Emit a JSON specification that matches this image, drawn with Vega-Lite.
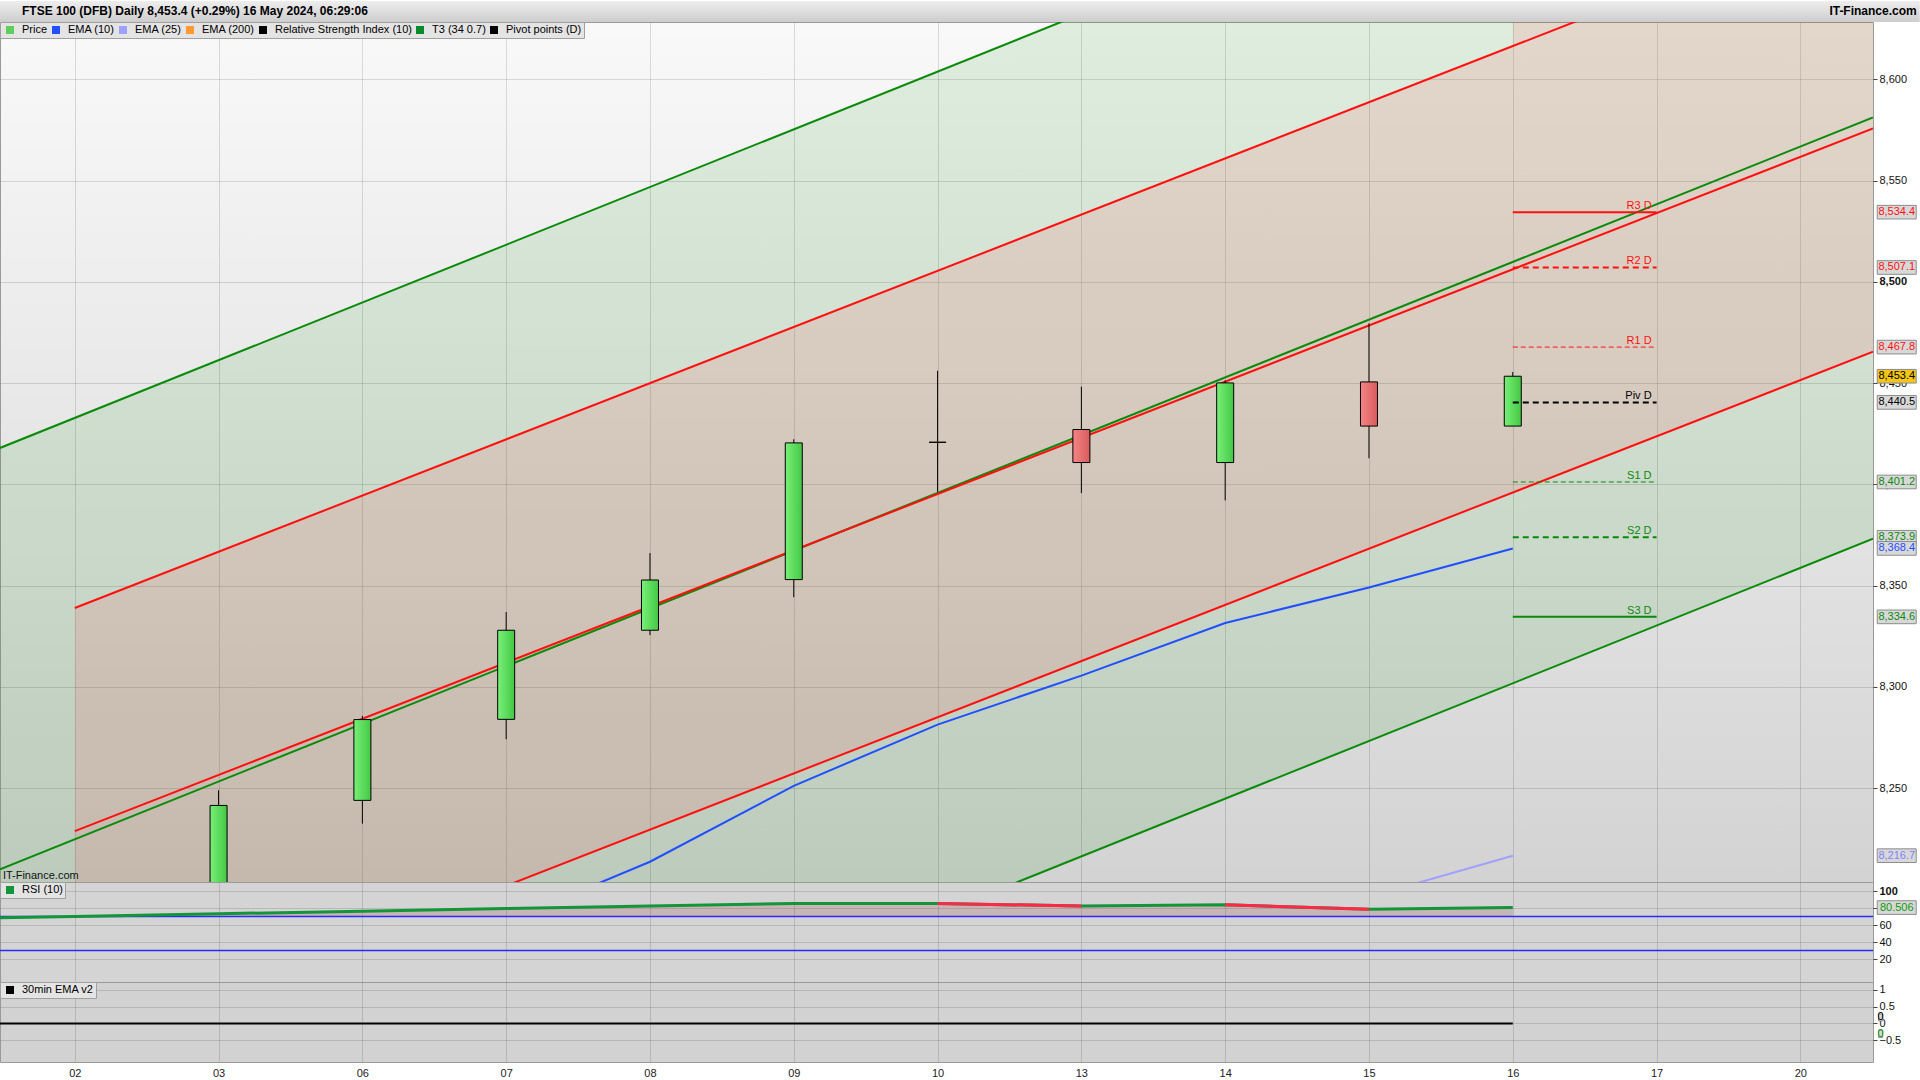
{
"$schema":"https://vega.github.io/schema/vega-lite/v6.json",
"background":"#ffffff",
"padding":{"left":-7,"top":0,"right":3,"bottom":0},
"spacing":0,
"bounds":"flush",
"config":{
 "font":"Liberation Sans",
 "view":{"stroke":"#9a9a9a","strokeWidth":1},
 "scale":{"continuousPadding":0},
 "axis":{"title":null,"labelFont":"Liberation Sans","labelFontSize":11,"labelColor":"#111111","domain":false,"tickColor":"#444444","tickSize":4,"gridColor":"#000000","gridOpacity":0.13,"gridWidth":1,"labelOverlap":false},
 "legend":{"orient":"none","legendX":0,"legendY":0,"direction":"horizontal","symbolType":"stroke","symbolStrokeWidth":8,"symbolSize":64,"labelFont":"Liberation Sans","labelFontSize":11,"labelColor":"#000000","fillColor":"#e4e4e4","strokeColor":"#a0a0a0","padding":2,"rowPadding":0,"columnPadding":-10,"labelOffset":4,"clipHeight":12}
},
"datasets":{
 "candles":[
  {"d":"03","i":1,"o":8190,"h":8249,"l":8180,"c":8241.5},
  {"d":"06","i":2,"o":8244,"h":8285.7,"l":8232.5,"c":8283.9},
  {"d":"07","i":3,"o":8284,"h":8337,"l":8274.2,"c":8328},
  {"d":"08","i":4,"o":8328,"h":8366.1,"l":8325.6,"c":8352.8},
  {"d":"09","i":5,"o":8353,"h":8422.3,"l":8344.3,"c":8420.5},
  {"d":"10","i":6,"o":8420.8,"h":8456.1,"l":8396.3,"c":8420.8},
  {"d":"13","i":7,"o":8427.1,"h":8448.3,"l":8395.7,"c":8410.8},
  {"d":"14","i":8,"o":8410.8,"h":8451.3,"l":8392.1,"c":8450.1},
  {"d":"15","i":9,"o":8450.6,"h":8479.5,"l":8412.9,"c":8428.8},
  {"d":"16","i":10,"o":8428.8,"h":8455.5,"l":8428.8,"c":8453.4}
 ],
 "green":[{"i":-0.52,"top":8418,"bot":8002},{"i":12.505,"top":8789.2,"bot":8373.2}],
 "brown":[
  {"seg":"a","i":0,"top":8339,"bot":8118.6},
  {"seg":"a","i":10,"top":8616.4,"bot":8396},
  {"seg":"b","i":10,"top":8640,"bot":8396},
  {"seg":"b","i":12.505,"top":8640,"bot":8465.5}
 ],
 "chan":[
  {"ln":"gt","c":"g","i":-0.52,"v":8418},{"ln":"gt","c":"g","i":12.505,"v":8789.2},
  {"ln":"gm","c":"g","i":-0.52,"v":8210},{"ln":"gm","c":"g","i":12.505,"v":8581.2},
  {"ln":"gb","c":"g","i":-0.52,"v":8002},{"ln":"gb","c":"g","i":12.505,"v":8373.2},
  {"ln":"rt","c":"r","i":0,"v":8339},{"ln":"rt","c":"r","i":12.505,"v":8685.9},
  {"ln":"rm","c":"r","i":0,"v":8228.8},{"ln":"rm","c":"r","i":12.505,"v":8575.7},
  {"ln":"rb","c":"r","i":0,"v":8118.6},{"ln":"rb","c":"r","i":12.505,"v":8465.5}
 ],
 "ema":[
  {"s":"EMA (10)","i":3,"v":8184},{"s":"EMA (10)","i":4,"v":8213.7},{"s":"EMA (10)","i":5,"v":8251.2},
  {"s":"EMA (10)","i":6,"v":8281.4},{"s":"EMA (10)","i":7,"v":8305.6},{"s":"EMA (10)","i":8,"v":8331.6},
  {"s":"EMA (10)","i":9,"v":8349.1},{"s":"EMA (10)","i":10,"v":8368.4},
  {"s":"EMA (25)","i":9,"v":8196.4},{"s":"EMA (25)","i":10,"v":8216.7}
 ],
 "pivots":[
  {"lvl":"R3 D","st":"solid","v":8534.4},{"lvl":"R2 D","st":"thick","v":8507.1},{"lvl":"R1 D","st":"thin","v":8467.8},
  {"lvl":"Piv D","st":"thick","v":8440.5},{"lvl":"S1 D","st":"thin","v":8401.2},{"lvl":"S2 D","st":"thick","v":8373.9},
  {"lvl":"S3 D","st":"solid","v":8334.6}
 ],
 "tags":[
  {"v":8534.4,"k":"r"},{"v":8507.1,"k":"r"},{"v":8467.8,"k":"r"},{"v":8453.4,"k":"p"},{"v":8440.5,"k":"b"},
  {"v":8401.2,"k":"g"},{"v":8373.9,"k":"g"},{"v":8368.4,"k":"e"},{"v":8334.6,"k":"g"},{"v":8216.7,"k":"e2"}
 ],
 "rsi":[
  {"i":-0.52,"v":68.6},{"i":0,"v":70},{"i":1,"v":73.2},{"i":2,"v":76.2},{"i":3,"v":79.3},{"i":4,"v":82.4},
  {"i":5,"v":85.4},{"i":6,"v":85.4},{"i":7,"v":82.3},{"i":8,"v":83.9},{"i":9,"v":78.4},{"i":10,"v":80.5}
 ],
 "rsidown":[{"s":"a","i":6,"v":85.4},{"s":"a","i":7,"v":82.3},{"s":"b","i":8,"v":83.9},{"s":"b","i":9,"v":78.4}],
 "rsilev":[{"lv":70},{"lv":30}],
 "rsitag":[{"v":80.506}],
 "ema30":[{"i":-0.52,"v":0},{"i":10,"v":0}],
 "zerotags":[{"v":0.18,"k":"a"},{"v":-0.31,"k":"g"}],
 "head":[{"t":"FTSE 100 (DFB) Daily 8,453.4 (+0.29%) 16 May 2024, 06:29:06","site":"IT-Finance.com"}]
},
"vconcat":[
 {
  "width":1873,"height":860,
  "view":{"fill":{"gradient":"linear","x1":0,"y1":0,"x2":0,"y2":1,"stops":[{"offset":0,"color":"#f9f9f9"},{"offset":1,"color":"#d3d3d3"}]}},
  "layer":[
   {"data":{"name":"green"},"mark":{"type":"area","color":"#008a00","opacity":0.1,"clip":true},
    "encoding":{
     "x":{"field":"i","type":"quantitative","scale":{"domain":[-0.52,12.505],"nice":false,"zero":false,"padding":0},
          "axis":{"values":[0,1,2,3,4,5,6,7,8,9,10,11,12],"labels":false,"ticks":false,"grid":true,"labelPadding":0,"minExtent":0,"maxExtent":0}},
     "y":{"field":"top","type":"quantitative","scale":{"domain":[8203.7,8628.3],"nice":false,"zero":false,"padding":0},
          "axis":{"orient":"right","values":[8250,8300,8350,8400,8450,8500,8550,8600],"format":",.0f","labelOverlap":false,
                  "labelFontWeight":{"condition":{"test":"datum.value == 8500","value":"bold"},"value":"normal"}}},
     "y2":{"field":"bot"}}},
   {"data":{"name":"brown"},"mark":{"type":"area","color":"#ff3c3c","opacity":0.125,"clip":true},
    "encoding":{"x":{"field":"i","type":"quantitative"},"y":{"field":"top","type":"quantitative"},"y2":{"field":"bot"},"detail":{"field":"seg"}}},
   {"data":{"name":"chan"},"mark":{"type":"line","strokeWidth":2,"clip":true},
    "encoding":{"x":{"field":"i","type":"quantitative"},"y":{"field":"v","type":"quantitative"},"detail":{"field":"ln"},
     "color":{"condition":{"test":"datum.c == 'g'","value":"#0a8a0a"},"value":"#ff1010"}}},
   {"data":{"name":"ema"},"mark":{"type":"line","strokeWidth":2,"clip":true},
    "encoding":{"x":{"field":"i","type":"quantitative"},"y":{"field":"v","type":"quantitative"},
     "color":{"field":"s","type":"nominal",
      "scale":{"domain":["Price","EMA (10)","EMA (25)","EMA (200)","Relative Strength Index (10)","T3 (34 0.7)","Pivot points (D)"],
               "range":["#5ccf5c","#1f4fff","#a0a0ff","#ff9933","#000000","#0a8a2a","#000000"]},
      "legend":{"title":null,"orient":"none","legendX":0,"legendY":0}}}},
   {"data":{"name":"candles"},"mark":{"type":"rule","color":"#000000","strokeWidth":1,"clip":true},
    "encoding":{"x":{"field":"i","type":"quantitative"},"y":{"field":"l","type":"quantitative"},"y2":{"field":"h"}}},
   {"data":{"name":"candles"},"transform":[{"filter":"datum.c >= datum.o"}],
    "mark":{"type":"bar","size":17,"clip":true,"stroke":"#000000","strokeWidth":1,
     "fill":{"gradient":"linear","x1":0,"y1":0,"x2":1,"y2":0,"stops":[{"offset":0,"color":"#78f078"},{"offset":1,"color":"#44c844"}]}},
    "encoding":{"x":{"field":"i","type":"quantitative"},"y":{"field":"o","type":"quantitative"},"y2":{"field":"c"}}},
   {"data":{"name":"candles"},"transform":[{"filter":"datum.c < datum.o"}],
    "mark":{"type":"bar","size":17,"clip":true,"stroke":"#000000","strokeWidth":1,
     "fill":{"gradient":"linear","x1":0,"y1":0,"x2":1,"y2":0,"stops":[{"offset":0,"color":"#f58585"},{"offset":1,"color":"#d85c5c"}]}},
    "encoding":{"x":{"field":"i","type":"quantitative"},"y":{"field":"o","type":"quantitative"},"y2":{"field":"c"}}},
   {"data":{"name":"pivots"},"transform":[{"filter":"datum.st == 'solid'"}],"mark":{"type":"rule","strokeWidth":2},
    "encoding":{"x":{"datum":10,"type":"quantitative"},"x2":{"datum":11},"y":{"field":"v","type":"quantitative"},
     "color":{"condition":[{"test":"datum.v > 8445","value":"#ff1010"},{"test":"datum.v > 8430","value":"#000000"}],"value":"#0a8a0a"}}},
   {"data":{"name":"pivots"},"transform":[{"filter":"datum.st == 'thick'"}],"mark":{"type":"rule","strokeWidth":2,"strokeDash":[6,4]},
    "encoding":{"x":{"datum":10,"type":"quantitative"},"x2":{"datum":11},"y":{"field":"v","type":"quantitative"},
     "color":{"condition":[{"test":"datum.v > 8445","value":"#ff1010"},{"test":"datum.v > 8430","value":"#000000"}],"value":"#0a8a0a"}}},
   {"data":{"name":"pivots"},"transform":[{"filter":"datum.st == 'thin'"}],"mark":{"type":"rule","strokeWidth":1,"strokeDash":[5,3]},
    "encoding":{"x":{"datum":10,"type":"quantitative"},"x2":{"datum":11},"y":{"field":"v","type":"quantitative"},
     "color":{"condition":[{"test":"datum.v > 8445","value":"#ff1010"},{"test":"datum.v > 8430","value":"#000000"}],"value":"#0a8a0a"}}},
   {"data":{"name":"pivots"},"mark":{"type":"text","align":"right","baseline":"bottom","dx":-5,"dy":-1,"fontSize":11},
    "encoding":{"x":{"datum":11,"type":"quantitative"},"y":{"field":"v","type":"quantitative"},"text":{"field":"lvl"},
     "color":{"condition":[{"test":"datum.v > 8445","value":"#ff1010"},{"test":"datum.v > 8430","value":"#000000"}],"value":"#0a8a0a"}}},
   {"data":{"name":"tags"},"mark":{"type":"point","shape":"M-1,-0.35H1V0.35H-1Z","size":1521,"filled":true,"opacity":1,"stroke":"#8c8c8c","strokeWidth":1},
    "encoding":{"x":{"datum":12.67,"type":"quantitative"},"y":{"field":"v","type":"quantitative"},
     "fill":{"condition":{"test":"datum.k == 'p'","value":"#f5c518"},"value":"#d8d8d8"}}},
   {"data":{"name":"tags"},"mark":{"type":"text","align":"center","baseline":"middle","fontSize":11},
    "encoding":{"x":{"datum":12.67,"type":"quantitative"},"y":{"field":"v","type":"quantitative"},"text":{"field":"v","format":",.1f"},
     "color":{"condition":[{"test":"datum.k == 'r'","value":"#ff1010"},{"test":"datum.k == 'g'","value":"#0a8a0a"},{"test":"datum.k == 'e'","value":"#1f4fff"},{"test":"datum.k == 'e2'","value":"#8080ff"}],"value":"#000000"}}},
   {"data":{"name":"head"},"mark":{"type":"rect","fill":{"gradient":"linear","x1":0,"y1":0,"x2":0,"y2":1,"stops":[{"offset":0,"color":"#eeeeee"},{"offset":1,"color":"#cdcdcd"}]}},
    "encoding":{"x":{"datum":-0.52,"type":"quantitative"},"x2":{"datum":12.83},"y":{"datum":8628.3,"type":"quantitative"},"y2":{"datum":8638.67}}},
   {"data":{"name":"head"},"mark":{"type":"text","align":"left","baseline":"middle","dx":22,"fontSize":12,"fontWeight":"bold","color":"#000000"},
    "encoding":{"x":{"datum":-0.52,"type":"quantitative"},"y":{"datum":8633.6,"type":"quantitative"},"text":{"field":"t"}}},
   {"data":{"name":"head"},"mark":{"type":"text","align":"right","baseline":"middle","dx":-3,"fontSize":12,"fontWeight":"bold","color":"#000000"},
    "encoding":{"x":{"datum":12.83,"type":"quantitative"},"y":{"datum":8633.6,"type":"quantitative"},"text":{"field":"site"}}},
   {"data":{"name":"head"},"mark":{"type":"text","align":"left","baseline":"bottom","dy":-1,"fontSize":11,"color":"#111111"},
    "encoding":{"x":{"datum":-0.5,"type":"quantitative"},"y":{"datum":8203.7,"type":"quantitative"},"text":{"field":"site"}}}
  ]
 },
 {
  "width":1873,"height":100,
  "view":{"fill":"#d4d4d4"},
  "layer":[
   {"data":{"name":"rsi"},"mark":{"type":"area","color":"#a04848","opacity":0.22},
    "encoding":{
     "x":{"field":"i","type":"quantitative","scale":{"domain":[-0.52,12.505],"nice":false,"zero":false,"padding":0},
          "axis":{"values":[0,1,2,3,4,5,6,7,8,9,10,11,12],"labels":false,"ticks":false,"grid":true,"labelPadding":0,"minExtent":0,"maxExtent":0}},
     "y":{"field":"v","type":"quantitative","scale":{"domain":[-7.06,110.6],"nice":false,"zero":false,"padding":0},
          "axis":{"orient":"right","values":[20,40,60,80,100],"labelOverlap":false,"labelSeparation":-8,"labelBound":false,"tickCount":10,
                  "labelFontWeight":{"condition":{"test":"datum.value == 100","value":"bold"},"value":"normal"}}},
     "y2":{"datum":70}}},
   {"data":{"name":"rsilev"},"mark":{"type":"rule","color":"#2a2aff","strokeWidth":1.5},
    "encoding":{"y":{"field":"lv","type":"quantitative"}}},
   {"data":{"name":"rsi"},"mark":{"type":"line","strokeWidth":3},
    "encoding":{"x":{"field":"i","type":"quantitative"},"y":{"field":"v","type":"quantitative"},
     "color":{"datum":"RSI (10)","type":"nominal","scale":{"range":["#13953a"]},"legend":{"title":null,"orient":"none","legendX":0,"legendY":0}}}},
   {"data":{"name":"rsidown"},"mark":{"type":"line","strokeWidth":3,"color":"#ff2848"},
    "encoding":{"x":{"field":"i","type":"quantitative"},"y":{"field":"v","type":"quantitative"},"detail":{"field":"s"}}},
   {"data":{"name":"rsitag"},"mark":{"type":"point","shape":"M-1,-0.35H1V0.35H-1Z","size":1521,"filled":true,"opacity":1,"fill":"#d8d8d8","stroke":"#8c8c8c","strokeWidth":1},
    "encoding":{"x":{"datum":12.67,"type":"quantitative"},"y":{"field":"v","type":"quantitative"}}},
   {"data":{"name":"rsitag"},"mark":{"type":"text","align":"center","baseline":"middle","fontSize":11,"color":"#0a9a0a"},
    "encoding":{"x":{"datum":12.67,"type":"quantitative"},"y":{"field":"v","type":"quantitative"},"text":{"field":"v","format":".3f"}}}
  ]
 },
 {
  "width":1873,"height":80,
  "view":{"fill":"#d2d2d2"},
  "layer":[
   {"data":{"name":"ema30"},"mark":{"type":"line","strokeWidth":2},
    "encoding":{
     "x":{"field":"i","type":"quantitative","scale":{"domain":[-0.52,12.505],"nice":false,"zero":false,"padding":0},
          "axis":{"values":[0,1,2,3,4,5,6,7,8,9,10,11,12],"ticks":false,"grid":true,"labelPadding":5,"labelColor":"#222222",
                  "labelExpr":"['02','03','06','07','08','09','10','13','14','15','16','17','20'][datum.value]"}},
     "y":{"field":"v","type":"quantitative","scale":{"domain":[-1.147,1.235],"nice":false,"zero":false,"padding":0},
          "axis":{"orient":"right","values":[-0.5,0,0.5,1],"format":".1~f","labelOverlap":false,"labelSeparation":-8,"labelBound":false,"tickCount":10}},
     "color":{"datum":"30min EMA v2","type":"nominal","scale":{"range":["#000000"]},"legend":{"title":null,"orient":"none","legendX":0,"legendY":0}}}},
   {"data":{"name":"zerotags"},"mark":{"type":"point","shape":"M-0.6,-1H0.6V1H-0.6Z","size":49,"filled":true,"opacity":1,"fill":"#d8d8d8","stroke":"#8c8c8c","strokeWidth":1},
    "encoding":{"x":{"datum":12.558,"type":"quantitative"},"y":{"field":"v","type":"quantitative"}}},
   {"data":{"name":"zerotags"},"mark":{"type":"text","align":"center","baseline":"middle","fontSize":11,"text":"0"},
    "encoding":{"x":{"datum":12.558,"type":"quantitative"},"y":{"field":"v","type":"quantitative"},
     "color":{"condition":{"test":"datum.k == 'g'","value":"#0a9a0a"},"value":"#000000"}}}
  ]
 }
],
"resolve":{"scale":{"color":"independent","x":"independent","y":"independent"},"legend":{"color":"independent"}}
}
